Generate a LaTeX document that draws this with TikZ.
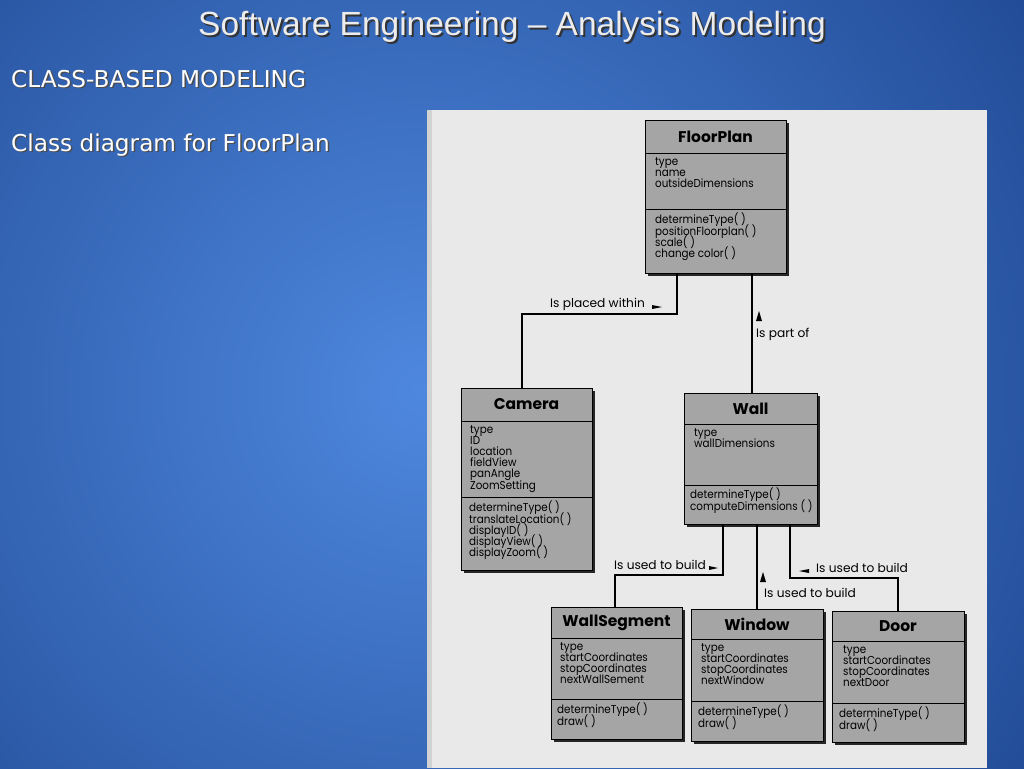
\documentclass[tikz,border=0pt]{standalone}
\usepackage{fontspec}
\setmainfont{Liberation Sans}
\newfontfamily\slidefont{DejaVu Sans}
\newfontfamily\scanfont[FakeStretch=0.9]{Poppins}
\newfontfamily\labelfont{Poppins}
\usetikzlibrary{shadows}
\newcommand\tightlines{\lineskiplimit=-100pt\lineskip=0pt\relax}

\definecolor{navy}{RGB}{14,48,118}
\definecolor{skyblue}{RGB}{78,136,222}
\definecolor{paper}{RGB}{233,233,233}
\definecolor{boxgray}{RGB}{165,165,165}

\tikzset{
  classbox/.style={draw, line width=1.2pt, fill=boxgray, anchor=north west, inner sep=0pt,
    drop shadow={shadow xshift=2.5pt, shadow yshift=-2.5pt, fill=black!85, opacity=1}},
  classname/.style={font=\labelfont\bfseries\fontsize{15.5}{16}\selectfont},
  members/.style={anchor=north west, align=left, inner sep=0pt,
    font=\scanfont\fontsize{11.5}{11.2}\selectfont\tightlines},
  wire/.style={line width=1.1pt},
  rel/.style={font=\labelfont\fontsize{12.2}{13}\selectfont, inner sep=1pt},
  slidetext/.style={font=\slidefont\fontsize{23.2}{24}\selectfont, anchor=west, inner sep=0pt},
}

% id, left, top, right, bottom, first divider, second divider, title
\newcommand\umlclass[8]{%
  \node[classbox, minimum width=#4pt-#2pt, minimum height=#5pt-#3pt] (#1) at (#2,#3) {};
  \draw[line width=1pt] (#2,#6) -- (#4,#6) (#2,#7) -- (#4,#7);
  \node[classname] (#1-name) at ({(#2+#4)/2},{(#3+#6)/2}) {#8};
}

\begin{document}
\begin{tikzpicture}[x=1pt,y=-1pt]
\useasboundingbox (0,0) rectangle (1024,768);
% slide background
\begin{scope}
\clip (0,0) rectangle (1024,768);
\fill[navy] (0,0) rectangle (1024,768);
\shade[inner color=skyblue, outer color=navy] (420,390) circle (1050);
\end{scope}

% headings
\node[font=\fontsize{33.5}{34}\selectfont, text=black!80] (title-shadow) at (514,29)
  {Software Engineering -- Analysis Modeling};
\node[font=\fontsize{33.5}{34}\selectfont, text=gray!15] (title) at (512,27)
  {Software Engineering -- Analysis Modeling};
\node[slidetext, text=black!70] (topic-shadow) at (12.5,80.5) {CLASS-BASED MODELING};
\node[slidetext, text=white] (topic) at (11,79) {CLASS-BASED MODELING};
\node[slidetext, text=black!70] (caption-shadow) at (12.5,146.5) {Class diagram for FloorPlan};
\node[slidetext, text=white] (caption) at (11,145) {Class diagram for FloorPlan};

% scanned page
\fill[paper] (427,110) rectangle (987,768);
\fill[gray!35] (427,110) rectangle (432,768);

% classes
\umlclass{floorplan}{645}{120}{786}{273}{153}{209}{FloorPlan}
\node[members] (floorplan-attr) at (655,157) {type\\name\\outsideDimensions};
\node[members] (floorplan-ops) at (655,213) {determineType( )\\positionFloorplan( )\\scale( )\\change color( )};

\umlclass{camera}{461}{388}{592}{570}{421}{497}{Camera}
\node[members] (camera-attr) at (470,425) {type\\ID\\location\\fieldView\\panAngle\\ZoomSetting};
\node[members] (camera-ops) at (469,501) {determineType( )\\translateLocation( )\\displayID( )\\displayView( )\\displayZoom( )};

\umlclass{wall}{684}{393}{817}{524}{424}{485}{Wall}
\node[members] (wall-attr) at (694,428) {type\\wallDimensions};
\node[members] (wall-ops) at (690,488) {determineType( )\\computeDimensions ( )};

\umlclass{wallseg}{551}{607}{682}{739}{638}{699}{WallSegment}
\node[members] (wallseg-attr) at (560,642) {type\\startCoordinates\\stopCoordinates\\nextWallSement};
\node[members] (wallseg-ops) at (557,703) {determineType( )\\draw( )};

\umlclass{window}{691}{609}{823}{741}{639}{701}{Window}
\node[members] (window-attr) at (701,643) {type\\startCoordinates\\stopCoordinates\\nextWindow};
\node[members] (window-ops) at (698,705) {determineType( )\\draw( )};

\umlclass{door}{832}{611}{964}{742}{641}{703}{Door}
\node[members] (door-attr) at (843,645) {type\\startCoordinates\\stopCoordinates\\nextDoor};
\node[members] (door-ops) at (839,707) {determineType( )\\draw( )};

% associations
\coordinate (placed-a) at (677,314);
\coordinate (placed-b) at (522,314);
\draw[wire] (floorplan.south -| placed-a) -- (placed-a) -- (placed-b) -- (camera.north -| placed-b);
\draw[wire] (floorplan.south -| 752,0) -- (wall.north -| 752,0);
\coordinate (seg-a) at (723,575);
\coordinate (seg-b) at (615,575);
\draw[wire] (wall.south -| seg-a) -- (seg-a) -- (seg-b) -- (wallseg.north -| seg-b);
\draw[wire] (wall.south -| 757,0) -- (window.north -| 757,0);
\coordinate (door-a) at (790,578);
\coordinate (door-b) at (898,578);
\draw[wire] (wall.south -| door-a) -- (door-a) -- (door-b) -- (door.north -| door-b);

% labels
\node[rel, anchor=east] (placed) at (646,304) {Is placed within};
\fill[shift={(placed.east)}] (6,1) -- (16,3) -- (6,5) -- cycle;
\node[rel, anchor=west] (partof) at (755,334) {Is part of};
\fill (756,321) -- (759,311) -- (762,321) -- cycle;
\node[rel, anchor=east] (build-seg) at (707,565) {Is used to build};
\fill[shift={(build-seg.east)}] (2,1) -- (11,3) -- (2,5) -- cycle;
\node[rel, anchor=west] (build-win) at (763,593) {Is used to build};
\fill (760,582) -- (763,572) -- (766,582) -- cycle;
\node[rel, anchor=west] (build-door) at (815,568) {Is used to build};
\fill[shift={(build-door.west)}] (-6,1) -- (-16,3) -- (-6,5) -- cycle;
\end{tikzpicture}
\end{document}
